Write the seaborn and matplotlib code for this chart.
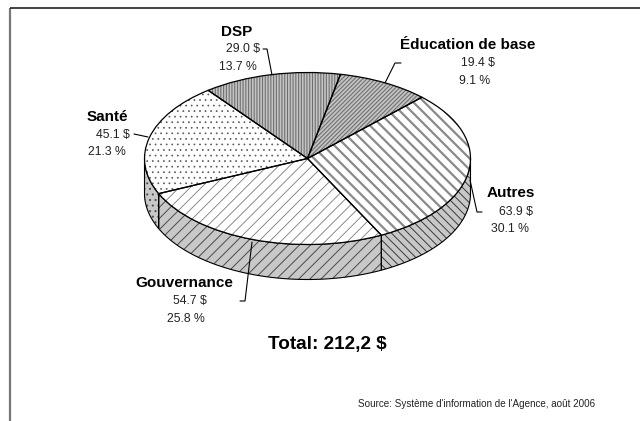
import numpy as np
import pandas as pd
import matplotlib
matplotlib.use("Agg")
import matplotlib.pyplot as plt
from matplotlib.patches import Polygon
import seaborn as sns

categories = ["Autres", "Gouvernance", "Santé", "DSP", "Éducation de base"]
amounts = [63.9, 54.7, 45.1, 29.0, 19.4]
amount_labels = ["63.9 $", "54.7 $", "45.1 $", "29.0 $", "19.4 $"]
percents = [30.1, 25.8, 21.3, 13.7, 9.1]
percent_labels = ["30.1 %", "25.8 %", "21.3 %", "13.7 %", "9.1 %"]
total_label = "Total: 212,2 $"
source_label = "Source: Système d'information de l'Agence, août 2006"

df = pd.DataFrame({"cat": categories, "amount": amounts, "pct": percents})

sns.set_theme(style="white", rc={"font.family": ["Liberation Sans", "DejaVu Sans"]})

W, H = 640, 421
CX, CY, RX, RY, DEPTH = 307.5, 158.5, 163.0, 86.0, 35.0
START = 45.4

fig = plt.figure(figsize=(W / 100, H / 100), dpi=100, facecolor="white")
ax = fig.add_axes([0, 0, 1, 1])

top_fill = ["white", "white", "white", "#c4c4c4", "#c4c4c4"]
top_hatch = ["\\\\\\", "///", "...", "||||||", "////////"]
top_hcol = ["#8a8a8a", "#7a7a7a", "#5a5a5a", "#707070", "#707070"]
top_hlw = [1.6, 0.6, 0.5, 0.8, 0.8]
side_fill = ["#c8c8c8", "#c8c8c8", "#c8c8c8", "#c8c8c8", "#c8c8c8"]
side_hatch = ["\\\\\\\\", "///", "...", "||||||", "////////"]
side_hcol = ["#3a3a3a", "#4a4a4a", "#4a4a4a", "#4a4a4a", "#4a4a4a"]


def arc_edges(values):
    angles = START - np.cumsum([0] + list(values)) / np.sum(values) * 360.0
    return angles


edges = arc_edges(df["amount"])
dz = DEPTH / RY

# side wall, front half only
for i in range(len(df)):
    a1, a0 = edges[i], edges[i + 1]
    lo, hi = None, None
    for shift in (0, -360):
        l, h = max(a0, -180 + shift), min(a1, 0 + shift)
        if l < h:
            lo, hi = l, h
            break
    if lo is None:
        continue
    t = np.radians(np.linspace(lo, hi, 80))
    x, y = np.cos(t), np.sin(t)
    pts = np.r_[np.c_[x, y], np.c_[x[::-1], y[::-1] - dz]]
    ax.add_patch(Polygon(pts, closed=True, facecolor=side_fill[i], edgecolor="none", zorder=1))
    hp = Polygon(pts, closed=True, facecolor="none", edgecolor=side_hcol[i], hatch=side_hatch[i], lw=0, zorder=1.1)
    hp.set_hatch_linewidth(0.7)
    ax.add_patch(hp)
    ax.add_patch(Polygon(pts, closed=True, facecolor="none", edgecolor="black", lw=0.8, zorder=1.2))

# top face: fills, hatches, outlines
w_fill, _ = ax.pie(df["amount"], startangle=START, counterclock=False, radius=1.0, colors=top_fill,
                   wedgeprops={"linewidth": 0, "zorder": 2}, frame=True)
w_hatch, _ = ax.pie(df["amount"], startangle=START, counterclock=False, radius=1.0, colors=["none"] * 5,
                    wedgeprops={"linewidth": 0, "zorder": 3}, frame=True)
for i, w in enumerate(w_hatch):
    w.set_facecolor("none")
    w.set_edgecolor(top_hcol[i])
    w.set_hatch(top_hatch[i])
    w.set_hatch_linewidth(top_hlw[i])
    w.set_linewidth(0)
w_line, _ = ax.pie(df["amount"], startangle=START, counterclock=False, radius=1.0, colors=["none"] * 5,
                   wedgeprops={"linewidth": 0.9, "edgecolor": "black", "zorder": 4}, frame=True)
for w in w_line:
    w.set_facecolor("none")

ax.set_aspect("auto")
ax.set_xlim((0 - CX) / RX, (W - CX) / RX)
ax.set_ylim((CY - H) / RY, CY / RY)
ax.axis("off")

# overlay in pixel coordinates for the frame, labels and leaders
ov = fig.add_axes([0, 0, 1, 1], facecolor="none")
ov.set_xlim(0, W)
ov.set_ylim(H, 0)
ov.axis("off")

ov.plot([10, 10], [8, H], color="#777777", lw=1.6, solid_capstyle="butt")
ov.plot([10, W], [7.5, 7.5], color="#222222", lw=1.2, solid_capstyle="butt")

label_pos = {
    "Autres": ((511, 193), (516, 212), (510, 229)),
    "Gouvernance": ((184, 283), (190, 301), (186, 319)),
    "Santé": ((107, 117), (113, 135), (107, 152)),
    "DSP": ((237, 32), (243, 49), (238, 67)),
    "Éducation de base": ((468, 45), (478, 63), (475, 81)),
}
leaders = [
    ([482, 477, 470], [212, 212, 180]),
    ([240, 245, 252], [301, 301, 242]),
    ([134, 148], [134, 137]),
    ([263, 267, 272], [49, 49, 75]),
    ([401, 395, 385], [63, 63, 83]),
]
for i, cat in enumerate(categories):
    p0, p1, p2 = label_pos[cat]
    ov.text(*p0, cat, ha="center", va="center", fontsize=11, fontweight="bold", color="black")
    ov.text(*p1, amount_labels[i], ha="center", va="center", fontsize=8.8, color="#222222")
    ov.text(*p2, percent_labels[i], ha="center", va="center", fontsize=8.8, color="#222222")
    ov.plot(leaders[i][0], leaders[i][1], color="black", lw=0.8, zorder=6)

ov.text(327, 345, total_label, ha="center", va="center", fontsize=13.6, fontweight="bold", color="black")
ov.text(595, 404, source_label, ha="right", va="center", fontsize=7.1, color="#222222")

fig.savefig("out.png", dpi=100, facecolor="white")
